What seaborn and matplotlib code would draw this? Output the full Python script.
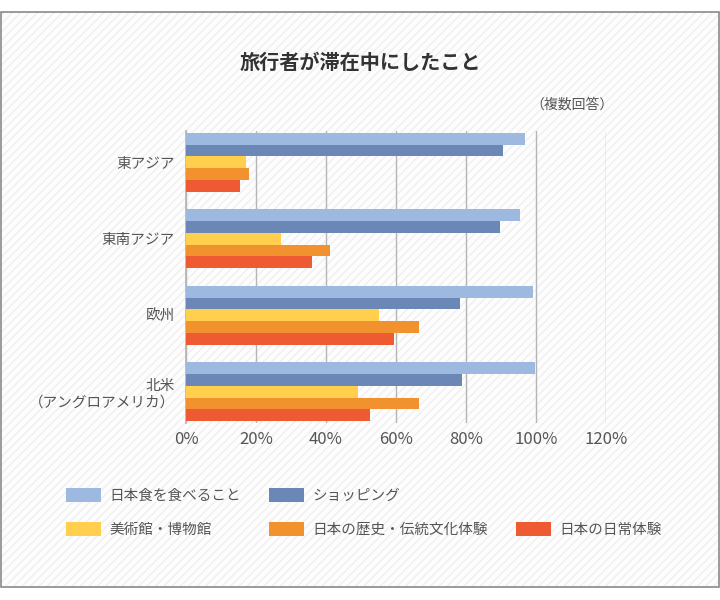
import pandas as pd
import matplotlib.pyplot as plt
import seaborn as sns
from matplotlib.patches import Rectangle, Patch

# data (percent)
regions = ["東アジア", "東南アジア", "欧州", "北米\n（アングロアメリカ）"]
activities = ["日本食を食べること", "ショッピング", "美術館・博物館",
              "日本の歴史・伝統文化体験", "日本の日常体験"]
food = [96.8, 95.3, 99.2, 99.8]
shopping = [90.6, 89.8, 78.3, 78.9]
museum = [17.1, 27.2, 55.1, 49.1]
history = [18.1, 41.0, 66.6, 66.6]
daily = [15.5, 35.9, 59.3, 52.6]
colors = ["#9DB9E0", "#6A87B5", "#FFCF4D", "#F2922F", "#EE5B33"]
xticks = [0, 20, 40, 60, 80, 100, 120]

rows = []
for series, vals in zip(activities, [food, shopping, museum, history, daily]):
    for r, v in zip(regions, vals):
        rows.append({"Region": r, "Activity": series, "Value": v})
df = pd.DataFrame(rows)

sns.set_theme(style="white")
plt.rcParams["font.family"] = ["Noto Sans CJK JP", "DejaVu Sans"]
plt.rcParams["hatch.linewidth"] = 1.0

fig = plt.figure(figsize=(7.2, 6), dpi=100)
fig.patch.set_facecolor("white")

# faint diagonal stripes, then a thin gray frame on top
y0 = 1 - 587 / 600
h = (587 - 12) / 600
stripes = Rectangle((0.001, y0), 0.997, h, transform=fig.transFigure,
                    facecolor="#fdfdfd", edgecolor="#efefef", linewidth=0,
                    hatch="////", zorder=-10)
frame = Rectangle((0.001, y0), 0.997, h, transform=fig.transFigure,
                  facecolor="none", edgecolor="#8a8a8a", linewidth=1.2,
                  zorder=-9)
fig.patches.extend([stripes, frame])

ax = fig.add_axes([186 / 720, 1 - 423 / 600, (606 - 186) / 720, (423 - 131) / 600])
ax.patch.set_alpha(0)

sns.barplot(data=df, y="Region", x="Value", hue="Activity", orient="h",
            palette=colors, saturation=1, width=0.77, ax=ax, legend=False,
            edgecolor="none", linewidth=0, zorder=3)

ax.set_xlim(0, 120)
ax.set_ylim(3.41, -0.41)
ax.set_xticks(xticks)
ax.set_xticklabels([f"{t}%" for t in xticks], fontsize=12, color="#555555")
ax.tick_params(axis="y", labelsize=10.5, labelcolor="#555555", length=0, pad=8)
ax.tick_params(axis="x", length=0, pad=6)
ax.set_xlabel("")
ax.set_ylabel("")
ax.grid(axis="x", color="#b5b5b5", linewidth=1, zorder=0)
for s in ["top", "right", "bottom"]:
    ax.spines[s].set_visible(False)
ax.spines["left"].set_color("#b5b5b5")

fig.text(0.5, 1 - 62 / 600, "旅行者が滞在中にしたこと", ha="center", va="center",
         fontsize=14.5, fontweight="bold", color="#333333")
fig.text(614 / 720, 1 - 105 / 600, "（複数回答）", ha="right", va="center",
         fontsize=10, color="#555555")

# legend: first row two items, second row three
handles = [Patch(facecolor=c, edgecolor="none") for c in colors]
blank = Patch(facecolor="none", edgecolor="none")
order_h = [handles[0], handles[2], handles[1], handles[3], blank, handles[4]]
order_l = [activities[0], activities[2], activities[1], activities[3], "", activities[4]]
leg = fig.legend(order_h, order_l, ncol=3, loc="upper left",
                 bbox_to_anchor=(53 / 720, 1 - 475 / 600), frameon=False,
                 fontsize=10.5, handlelength=2.4, handleheight=1.1,
                 handletextpad=0.55, columnspacing=1.95, labelspacing=1.3)
for t in leg.get_texts():
    t.set_color("#555555")

fig.savefig("out.png", dpi=100)
